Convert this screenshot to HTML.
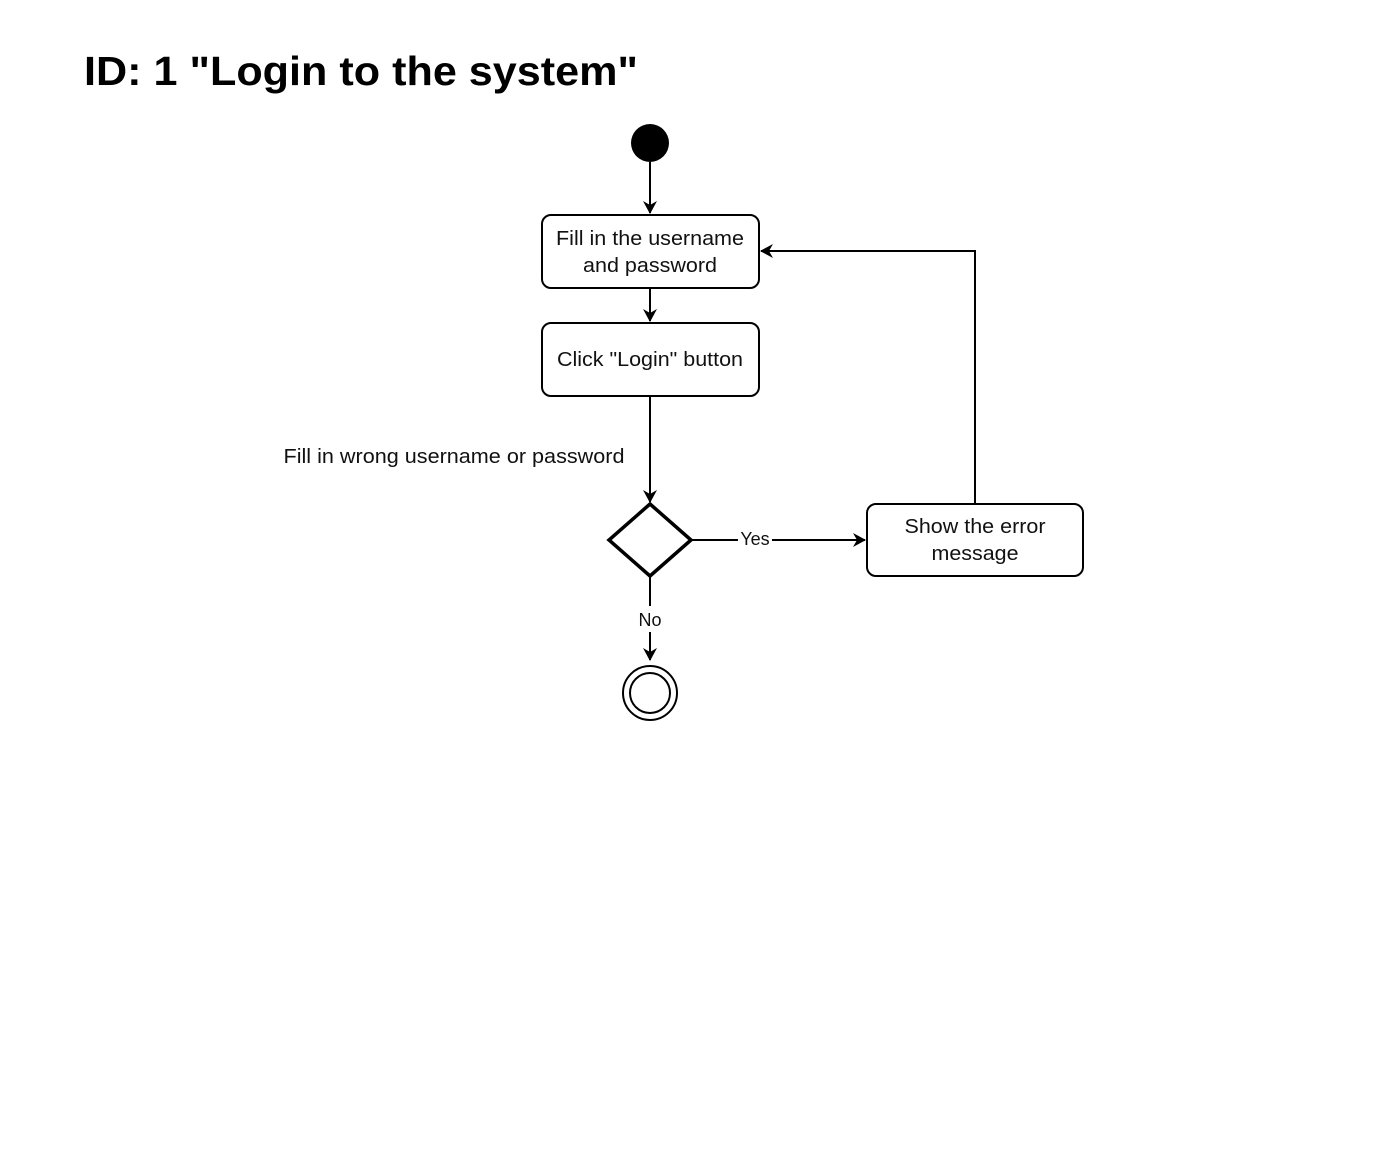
<!DOCTYPE html>
<html><head><meta charset="utf-8"><style>body{margin:0;background:#fff}svg{display:block}</style></head>
<body>
<svg width="1393" height="1176" xmlns="http://www.w3.org/2000/svg" font-family="Liberation Sans, Arial, sans-serif">
<defs><marker id="a" markerWidth="14" markerHeight="14" refX="12" refY="7" orient="auto" markerUnits="userSpaceOnUse"><path d="M0,0 L13,7 L0,14 L4,7 Z" fill="#000"/></marker></defs>
<text x="84" y="85" font-size="41" font-weight="bold" fill="#000" textLength="554" lengthAdjust="spacingAndGlyphs">ID: 1 "Login to the system"</text>
<circle cx="650" cy="143" r="19" fill="#000"/>
<g stroke="#000" stroke-width="2" fill="none">
<line x1="650" y1="162" x2="650" y2="213" marker-end="url(#a)"/>
<rect x="542" y="215" width="217" height="73" rx="9" fill="#fff"/>
<line x1="650" y1="288" x2="650" y2="321" marker-end="url(#a)"/>
<rect x="542" y="323" width="217" height="73" rx="9" fill="#fff"/>
<line x1="650" y1="396" x2="650" y2="502" marker-end="url(#a)"/>
<polygon points="650,504 691,540 650,576 609,540" stroke-width="3.5" fill="#fff"/>
<line x1="691" y1="540" x2="865" y2="540" marker-end="url(#a)"/>
<rect x="867" y="504" width="216" height="72" rx="9" fill="#fff"/>
<polyline points="975,504 975,251 761,251" marker-end="url(#a)"/>
<line x1="650" y1="576" x2="650" y2="660" marker-end="url(#a)"/>
<circle cx="650" cy="693" r="27"/>
<circle cx="650" cy="693" r="20"/>
</g>
<rect x="636" y="606" width="28" height="26" fill="#fff"/>
<rect x="738" y="529" width="34" height="20" fill="#fff"/>
<g font-size="20" fill="#111" text-anchor="middle" lengthAdjust="spacingAndGlyphs">
<text x="650" y="245" textLength="188" lengthAdjust="spacingAndGlyphs">Fill in the username</text>
<text x="650" y="272" textLength="134" lengthAdjust="spacingAndGlyphs">and password</text>
<text x="650" y="366" textLength="186" lengthAdjust="spacingAndGlyphs">Click "Login" button</text>
<text x="975" y="533" textLength="141" lengthAdjust="spacingAndGlyphs">Show the error</text>
<text x="975" y="560" textLength="87" lengthAdjust="spacingAndGlyphs">message</text>
<text x="454" y="463" textLength="341" lengthAdjust="spacingAndGlyphs">Fill in wrong username or password</text>
<text x="650" y="626" font-size="18">No</text>
<text x="755" y="545" font-size="18">Yes</text>
</g>
</svg>
</body></html>
